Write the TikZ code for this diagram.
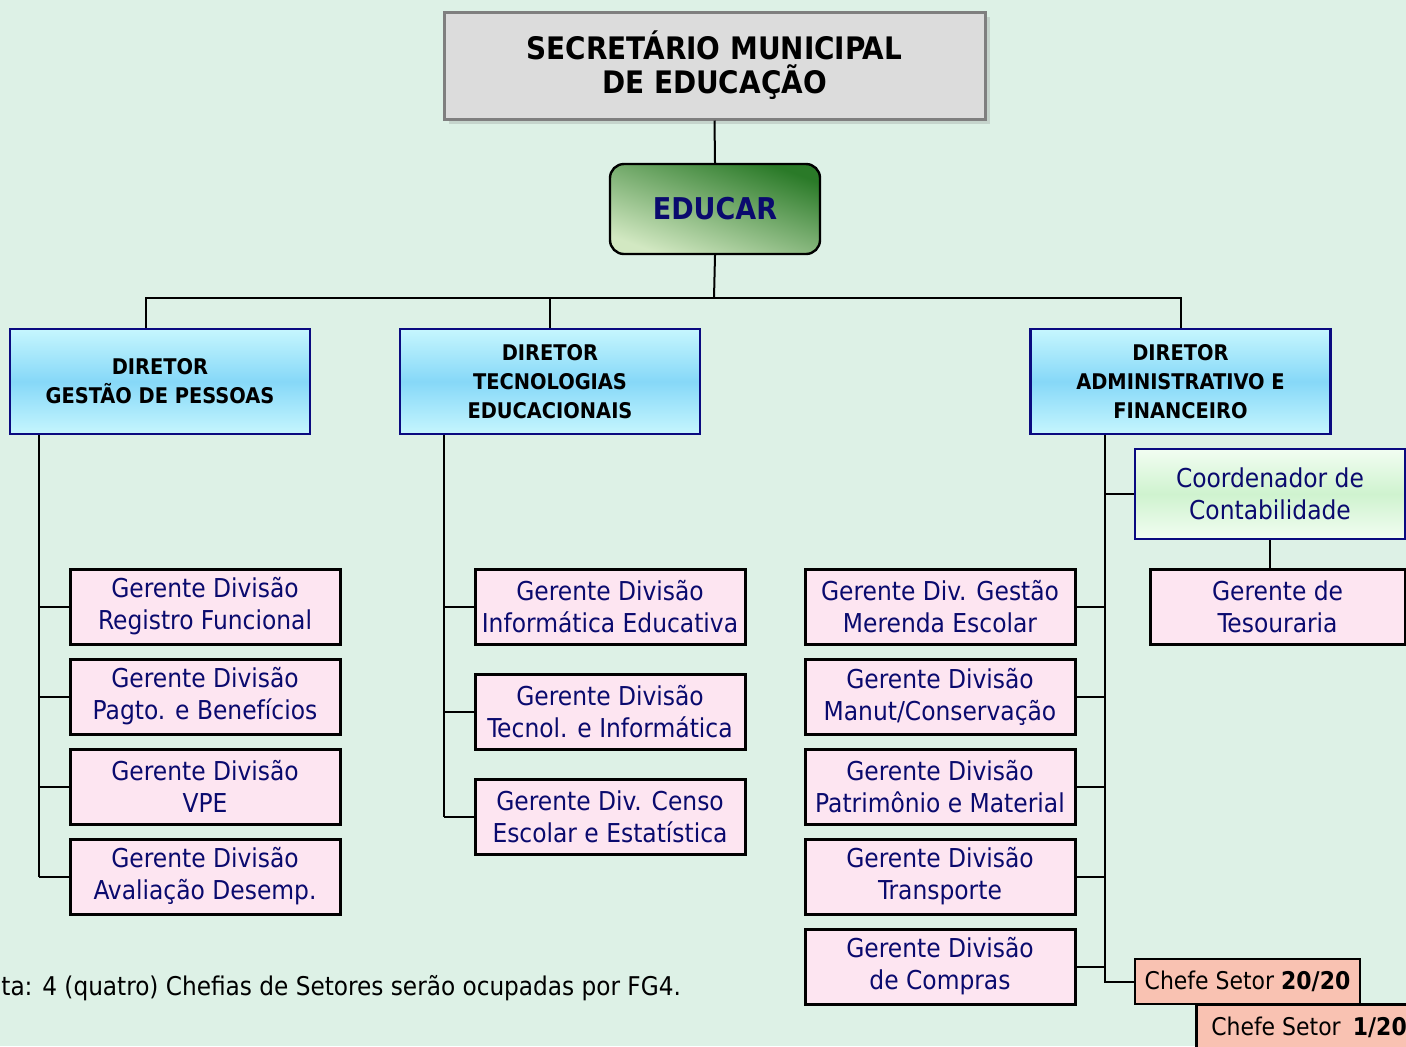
\documentclass[tikz,border=0pt]{standalone}
\usepackage{fontspec}
\setmainfont{DejaVu Sans Condensed}
\usetikzlibrary{shadows}
\definecolor{mintbg}{HTML}{DDF1E6}
\definecolor{pinkbox}{HTML}{FDE5F1}
\definecolor{navytxt}{HTML}{0A0A6E}
\definecolor{navyline}{HTML}{0A0A80}
\definecolor{cyanedge}{HTML}{C6F6FE}
\definecolor{cyanmid}{HTML}{86D8F8}
\definecolor{greenedge}{HTML}{F2FDF2}
\definecolor{greenmid}{HTML}{CFF3CF}
\definecolor{salmonbox}{HTML}{F9C2B2}
\definecolor{secfill}{HTML}{DCDCDC}
\definecolor{secline}{HTML}{7F7F7F}
\definecolor{educdark}{HTML}{2A7A28}
\definecolor{educlight}{HTML}{D2E8C2}
\tikzset{
  gerbox/.style={draw=black, line width=1.5pt, fill=pinkbox, text=navytxt, minimum width=135pt, minimum height=37.5pt, align=center, inner sep=0pt, font=\fontsize{13}{16}\selectfont},
  dirbox/.style={draw=navyline, line width=1.2pt, top color=cyanedge, bottom color=cyanedge, middle color=cyanmid, minimum width=150pt, minimum height=52.5pt, align=center, inner sep=0pt, font=\bfseries\fontsize{10.8}{14.5}\selectfont},
  chefebox/.style={draw=black, line width=1.2pt, fill=salmonbox, minimum width=112.5pt, minimum height=22.5pt, inner sep=0pt, font=\fontsize{12.2}{14}\selectfont},
  link/.style={line width=1pt}
}
\begin{document}
\begin{tikzpicture}[x=0.5pt, y=-0.5pt]
\fill[mintbg] (0,0) rectangle (1406,1046);
\useasboundingbox (0,0) rectangle (1406,1046);
% top of the chart
\node[draw=secline, line width=1.5pt, fill=secfill, drop shadow={opacity=0.25}, minimum width=270.5pt, minimum height=53.5pt, align=center, font=\bfseries\fontsize{15.5}{17}\selectfont] (sec) at (714.5,65.5) {SECRETÁRIO MUNICIPAL\\DE EDUCAÇÃO};
\node[draw=black, line width=1.2pt, rounded corners=7pt, top color=educdark, bottom color=educlight, shading angle=-20, minimum width=105pt, minimum height=45pt, text=navytxt, font=\bfseries\fontsize{15}{18}\selectfont] (educar) at (715,209) {EDUCAR};
\node[dirbox] (dirGP) at (160,381.5) {DIRETOR\\GESTÃO DE PESSOAS};
\node[dirbox] (dirTE) at (550,381.5) {DIRETOR\\TECNOLOGIAS\\EDUCACIONAIS};
\node[dirbox] (dirAF) at (1180.5,381.5) {DIRETOR\\ADMINISTRATIVO E\\FINANCEIRO};
\coordinate (bus) at (714,298);
\draw[link] (sec.south) -- (educar.north);
\draw[link] (educar.south) -- (bus);
\draw[link] ([xshift=-7pt]dirGP.north) |- (bus) -| (dirAF.north);
\draw[link] (dirTE.north) -- (dirTE.north |- bus);
% gestao de pessoas
\node[gerbox] (gpReg) at (205,606.5) {Gerente Divisão\\Registro Funcional};
\node[gerbox] (gpPag) at (205,696.5) {Gerente Divisão\\Pagto. e Benefícios};
\node[gerbox] (gpVpe) at (205,786.5) {Gerente Divisão\\VPE};
\node[gerbox] (gpAva) at (205,876.5) {Gerente Divisão\\Avaliação Desemp.};
\coordinate (gpTop) at ([xshift=15pt]dirGP.south west);
\draw[link] (gpTop) -- (gpTop |- gpAva.west);
\draw[link] (gpTop |- gpReg.west) -- (gpReg.west);
\draw[link] (gpTop |- gpPag.west) -- (gpPag.west);
\draw[link] (gpTop |- gpVpe.west) -- (gpVpe.west);
\draw[link] (gpTop |- gpAva.west) -- (gpAva.west);
% tecnologias
\node[gerbox] (teInf) at (610,606.5) {Gerente Divisão\\Informática Educativa};
\node[gerbox] (teTec) at (610,711.5) {Gerente Divisão\\Tecnol. e Informática};
\node[gerbox] (teCen) at (610,816.5) {Gerente Div. Censo\\Escolar e Estatística};
\coordinate (teTop) at ([xshift=22.5pt]dirTE.south west);
\draw[link] (teTop) -- (teTop |- teCen.west);
\draw[link] (teTop |- teInf.west) -- (teInf.west);
\draw[link] (teTop |- teTec.west) -- (teTec.west);
\draw[link] (teTop |- teCen.west) -- (teCen.west);
% administrativo e financeiro
\node[draw=navyline, line width=1.2pt, top color=greenedge, bottom color=greenedge, middle color=greenmid, minimum width=135pt, minimum height=45pt, align=center, inner sep=0pt, text=navytxt, font=\fontsize{13}{16}\selectfont] (coord) at (1270,494) {Coordenador de\\Contabilidade};
\node[gerbox, minimum width=127.5pt] (tes) at (1277.5,606.5) {Gerente de\\Tesouraria};
\node[gerbox] (afMer) at (940,606.5) {Gerente Div. Gestão\\Merenda Escolar};
\node[gerbox] (afMan) at (940,696.5) {Gerente Divisão\\Manut/Conservação};
\node[gerbox] (afPat) at (940,786.5) {Gerente Divisão\\Patrimônio e Material};
\node[gerbox] (afTra) at (940,876.5) {Gerente Divisão\\Transporte};
\node[gerbox] (afCom) at (940,966.5) {Gerente Divisão\\de Compras};
\node[chefebox] (chefe20) at (1247.5,981.5) {Chefe Setor \textbf{20/20}};
\node[chefebox] (chefe1) at (1309,1027) {Chefe Setor\enspace\textbf{1/20}};
\coordinate (afTop) at ([xshift=38pt]dirAF.south west);
\draw[link] (afTop) |- (chefe20.west);
\draw[link] (afTop |- coord.west) -- (coord.west);
\draw[link] (coord.south) -- (coord.south |- tes.north);
\draw[link] (afMer.east) -- (afTop |- afMer.east);
\draw[link] (afMan.east) -- (afTop |- afMan.east);
\draw[link] (afPat.east) -- (afTop |- afPat.east);
\draw[link] (afTra.east) -- (afTop |- afTra.east);
\draw[link] (afCom.east) -- (afTop |- afCom.east);
\node[anchor=west, font=\fontsize{12.9}{15}\selectfont, inner sep=0pt] (nota) at (1,988) {ta: 4 (quatro) Chefias de Setores serão ocupadas por FG4.};
\end{tikzpicture}
\end{document}
